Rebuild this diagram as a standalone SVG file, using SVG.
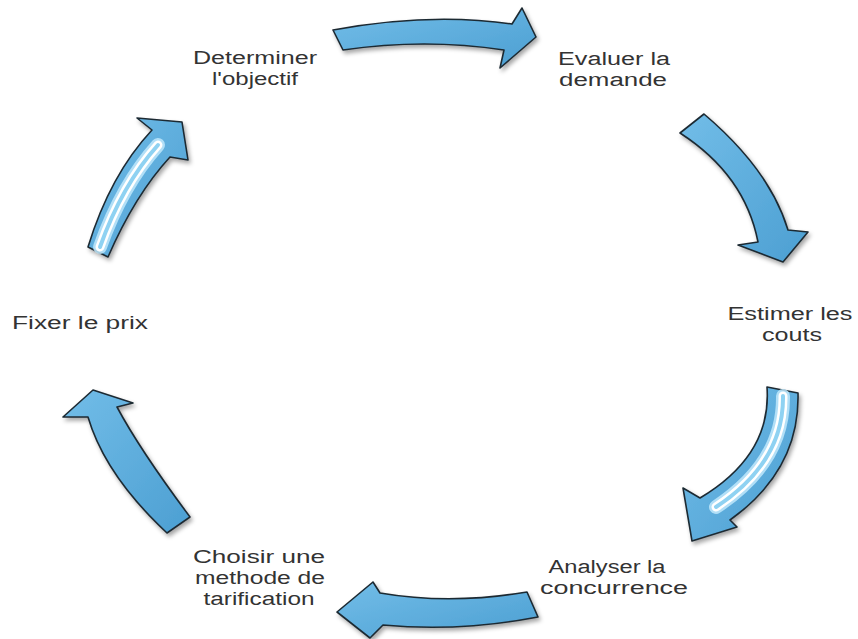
<svg xmlns="http://www.w3.org/2000/svg" width="858" height="639" viewBox="0 0 858 639">
  <style>
    .lbl { font-family: "Liberation Sans", Arial, sans-serif; font-size: 18px; fill: #333333; text-anchor: middle; }
    .arrow { fill: url(#blueFill); stroke: #1d2a33; stroke-width: 1.6; stroke-linejoin: round; filter: url(#shadow); }
    .glow { fill: none; stroke: #bfe8fb; stroke-width: 14; stroke-linecap: round; opacity: 0.85; }
    .stripe { fill: none; stroke: #ffffff; stroke-width: 9; stroke-linecap: round; }
    .mid { fill: none; stroke: #8fd2f2; stroke-width: 4; stroke-linecap: round; }
  </style>
  <defs>
    <linearGradient id="blueFill" x1="0" y1="0" x2="1" y2="1">
      <stop offset="0" stop-color="#72bde8"/>
      <stop offset="1" stop-color="#4c9fd2"/>
    </linearGradient>
    <filter id="shadow" x="-20%" y="-20%" width="140%" height="150%">
      <feDropShadow dx="2" dy="3" stdDeviation="2" flood-color="#000" flood-opacity="0.35"/>
    </filter>
  </defs>
  <rect width="858" height="639" fill="#ffffff"/>

  <!-- connectors: curved cycle arrows -->
  <g id="connectors">
    <path class="arrow" d="M333,30 Q430,12 512,24 L522,8 L536,37 L500,68 L504,50 Q425,38 343,50 Z"/>
    <path class="arrow" d="M680,133 L704,114 Q770,170 788,230 L808,232 L783,262 L738,245 L758,242 Q745,175 680,133 Z"/>
    <g>
      <path class="arrow" d="M767,387 L798,393 Q800,470 730,520 L737,527 L692,541 L683,488 L700,498 Q772,455 767,387 Z"/>
      <path class="glow" d="M783,396 Q784,462 716,507"/>
      <path class="stripe" d="M783,396 Q784,462 716,507"/>
      <path class="mid" d="M783,396 Q784,462 716,507"/>
    </g>
    <path class="arrow" d="M527,592 Q450,605 380,593 L373,582 L337,612 L370,638 L383,625 Q460,632 538,617 Z"/>
    <path class="arrow" d="M167,533 L190,517 Q140,450 117,407 L133,403 L93,390 L63,417 L88,417 Q105,475 167,533 Z"/>
    <g>
      <path class="arrow" d="M88,247 Q110,175 152,130 L137,118 L182,122 L188,160 L170,157 Q135,195 108,257 Z"/>
      <path class="glow" d="M100,247 Q122,185 158,145"/>
      <path class="stripe" d="M100,247 Q122,185 158,145"/>
      <path class="mid" d="M100,247 Q122,185 158,145"/>
    </g>
  </g>

  <!-- step labels -->
  <g id="step-objectif">
    <text class="lbl" x="255" y="64" textLength="124" lengthAdjust="spacingAndGlyphs">Determiner</text>
    <text class="lbl" x="255" y="85" textLength="86" lengthAdjust="spacingAndGlyphs">l'objectif</text>
  </g>
  <g id="step-demande">
    <text class="lbl" x="614" y="65" textLength="112" lengthAdjust="spacingAndGlyphs">Evaluer la</text>
    <text class="lbl" x="613" y="86" textLength="108" lengthAdjust="spacingAndGlyphs">demande</text>
  </g>
  <g id="step-couts">
    <text class="lbl" x="790" y="320" textLength="125" lengthAdjust="spacingAndGlyphs">Estimer les</text>
    <text class="lbl" x="792" y="341" textLength="60" lengthAdjust="spacingAndGlyphs">couts</text>
  </g>
  <g id="step-concurrence">
    <text class="lbl" x="607" y="573" textLength="117" lengthAdjust="spacingAndGlyphs">Analyser la</text>
    <text class="lbl" x="614" y="594" textLength="148" lengthAdjust="spacingAndGlyphs">concurrence</text>
  </g>
  <g id="step-methode">
    <text class="lbl" x="259" y="563" textLength="132" lengthAdjust="spacingAndGlyphs">Choisir une</text>
    <text class="lbl" x="260" y="584" textLength="130" lengthAdjust="spacingAndGlyphs">methode de</text>
    <text class="lbl" x="259" y="605" textLength="111" lengthAdjust="spacingAndGlyphs">tarification</text>
  </g>
  <g id="step-prix">
    <text class="lbl" x="80" y="329" textLength="136" lengthAdjust="spacingAndGlyphs">Fixer le prix</text>
  </g>
</svg>
